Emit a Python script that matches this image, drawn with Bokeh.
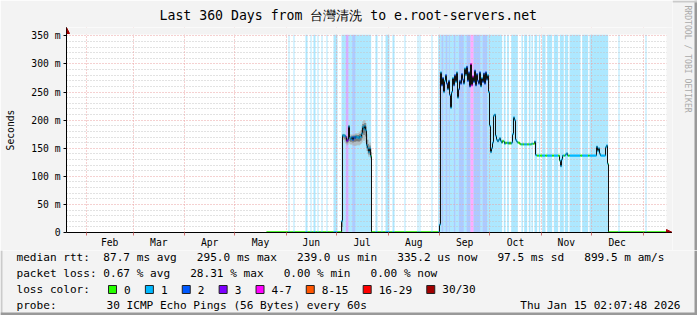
import datetime as dt
import math
from bisect import bisect_right

from bokeh.plotting import figure
from bokeh.layouts import column, row
from bokeh.models import (FixedTicker, LinearAxis, Grid, Title, Arrow, NormalHead, Range1d)
from bokeh.core.properties import value
from bokeh.embed import file_html
from bokeh.resources import INLINE

# ------------------------------------------------------------------ data
END_TIME = dt.datetime(2026, 1, 15, 2, 7, 48)
SPAN_DAYS = 360
STEP = 0.6          # days per consolidated RRD row

month_names = ["Feb", "Mar", "Apr", "May", "Jun", "Jul", "Aug", "Sep", "Oct", "Nov", "Dec"]
month_starts = [(2025, 2), (2025, 3), (2025, 4), (2025, 5), (2025, 6), (2025, 7), (2025, 8),
                (2025, 9), (2025, 10), (2025, 11), (2025, 12), (2026, 1)]

y_ticks = [0, 50, 100, 150, 200, 250, 300, 350]
y_tick_labels = ["0", "50 m", "100 m", "150 m", "200 m", "250 m", "300 m", "350 m"]
y_minor_step = 10
y_max = 352.6

zero_rtt_ms = 0.3          # ~0.3 ms median when path is local
data_start_day = 120.0     # first valid sample
gap1_start = 183.0
data_end_day = 360.0

block1_start = 165.0
block1_ms = [20, 173, 173, 172, 170, 163, 165, 189, 168, 166,
             170, 165, 170, 168, 171, 169, 170, 168, 171, 170,
             176, 188, 184, 190, 182, 155, 150, 143, 150, 136]
block1_lo = [0, 165, 165, 160, 158, 155, 156, 160, 158, 156,
             157, 155, 155, 154, 155, 155, 156, 155, 156, 158,
             160, 165, 163, 166, 160, 145, 140, 135, 138, 130]
block1_hi = [20, 176, 176, 175, 174, 170, 172, 192, 175, 172,
             175, 172, 176, 175, 177, 176, 177, 178, 180, 182,
             190, 198, 200, 200, 195, 175, 165, 158, 160, 150]

block2_start = 223.8
block2_ms = [14, 285, 262, 275, 250, 270, 280, 265, 255, 270,
             245, 222, 250, 275, 262, 280, 268, 285, 240, 255,
             270, 265, 282, 272, 265, 292, 280, 295, 270, 285,
             260, 300, 262, 278, 268, 288, 262, 282, 270, 265,
             285, 260, 275, 268, 283, 265, 285, 272, 280, 250,
             190, 143, 150, 160, 208, 210, 172, 165, 162, 165,
             168, 163, 160, 163, 162, 158, 160, 159, 160, 158,
             160, 158, 160, 175, 205, 200, 165, 162, 160, 160,
             158, 157, 157, 157, 157, 157, 157, 157, 157, 157,
             157, 157, 158, 158, 158, 162, 138]

tail_day = [282.0, 295.8, 296.4, 297.0, 297.6, 299.4, 300.0, 300.6,
            318.0, 318.6, 319.2, 319.8, 320.4, 323.4, 324.0, 324.6, 325.2]
tail_ms = [137, 128, 118, 130, 137, 139, 141, 137,
           153, 145, 150, 140, 137, 152, 155, 122, 0.3]

band_start = [133.2, 136.2, 143.4, 146.4, 148.2, 150.6, 153.0, 156.0, 160.2,
              165.0, 167.6, 169.2, 171.4, 173.4,
              185.4, 189.0, 191.4, 195.6, 202.8, 210.6, 211.8, 219.0,
              223.0, 225.0, 226.2, 227.4, 228.6, 229.4, 230.0, 232.4, 233.4,
              235.4, 238.4, 240.0, 242.4, 244.2, 248.4, 249.6, 252.4,
              262.4, 264.4, 266.8, 273.0, 274.6, 277.4, 279.0, 280.8, 283.4,
              285.4, 288.4, 292.4, 296.0, 299.0, 301.8, 309.4, 313.8, 331.2, 347.4]
band_end = [133.8, 136.8, 144.6, 147.0, 149.4, 151.2, 153.6, 156.6, 162.6,
            167.6, 169.2, 171.4, 173.4, 182.8,
            186.6, 189.6, 193.8, 196.8, 203.4, 211.2, 212.4, 219.6,
            225.0, 226.2, 227.4, 228.6, 229.4, 230.0, 232.4, 233.4, 235.4,
            238.4, 240.0, 242.4, 244.2, 248.4, 249.6, 252.4, 261.4,
            263.4, 265.4, 270.8, 273.8, 276.4, 278.4, 279.8, 282.4, 284.2,
            287.4, 291.4, 295.0, 298.4, 301.0, 308.4, 313.0, 325.0, 331.8, 348.0]
band_loss = [1, 1, 1, 1, 1, 1, 1, 1, 1,
             1, 3, 1, 2, 1,
             1, 1, 1, 1, 1, 1, 1, 1,
             1, 2, 1, 2, 1, 2, 1, 2, 1,
             2, 1, 2, 5, 2, 1, 2, 1,
             1, 1, 1, 1, 1, 1, 1, 1, 1,
             1, 1, 1, 1, 1, 1, 1, 1, 1, 1]

loss_names = ["0", "1", "2", "3", "4-7", "8-15", "16-29", "30/30"]
loss_colors = ["#26ff00", "#00b8ff", "#0059ff", "#7e00ff", "#ff00ff", "#ff5500", "#ff0000", "#a10000"]
loss_upper = [0, 1, 2, 3, 7, 15, 29, 30]

title_text = "Last 360 Days from 台灣清洗 to e.root-servers.net"
row_rtt = "median rtt:  87.7 ms avg   295.0 ms max   239.0 us min   335.2 us now   97.5 ms sd   899.5 m am/s"
row_loss = "packet loss: 0.67 % avg   28.31 % max   0.00 % min   0.00 % now"
row_color_label = "loss color:"
row_probe_label = "probe:"
row_probe_text = "30 ICMP Echo Pings (56 Bytes) every 60s"
stamp_text = "Thu Jan 15 02:07:48 2026"
watermark = "RRDTOOL / TOBI OETIKER"

# ------------------------------------------------------------------ derived
start_time = END_TIME - dt.timedelta(days=SPAN_DAYS)
bounds = [(dt.datetime(y, m, 1) - start_time).total_seconds() / 86400.0 for y, m in month_starts]
mids = [round((a + b) / 2.0, 3) for a, b in zip(bounds[:-1], bounds[1:])]


def loss_class(n):
    for i, u in enumerate(loss_upper):
        if n <= u:
            return i
    return len(loss_upper) - 1


def keep_spaces(s):
    return s.replace(" ", "\u00a0")


med_day = ([data_start_day] + [block1_start + i * STEP for i in range(len(block1_ms))] +
           [gap1_start] + [block2_start + i * STEP for i in range(len(block2_ms))] + tail_day)
med_ms = [zero_rtt_ms] + block1_ms + [zero_rtt_ms] + block2_ms + tail_ms

# ------------------------------------------------------------------ main figure
MONO = "DejaVu Sans Mono"
BG = "#f3f3f3"
PX_PER_DAY = 600 / SPAN_DAYS
PX_PER_MS = 200 / y_max
x_end = SPAN_DAYS + 6 / PX_PER_DAY          # room for the axis arrow heads
y_end = y_max + 7 / PX_PER_MS
MAIN_H = 250
MAIN_W = 672

p = figure(width=MAIN_W, height=MAIN_H, x_range=Range1d(0, x_end), y_range=Range1d(0, y_end),
           x_axis_type=None, y_axis_type=None,
           min_border_left=66, min_border_right=0, min_border_top=26, min_border_bottom=17,
           output_backend="svg", toolbar_location=None,
           background_fill_color="white", border_fill_color=BG, outline_line_color=None)

# loss background bands
bands = p.quad(left=band_start, right=band_end, bottom=0, top=y_max,
               fill_color=[loss_colors[loss_class(n)] for n in band_loss],
               fill_alpha=0.32, line_color=None)
bands.level = "image"

# grids (drawn over the loss bands)
minor_y = [v for v in range(y_minor_step, int(y_max), y_minor_step) if v % 50 != 0]
ygrid = Grid(dimension=1, ticker=FixedTicker(ticks=y_ticks, minor_ticks=minor_y),
             grid_line_color="#eba3a3", grid_line_dash="1 2",
             minor_grid_line_color="#c4c4c4", minor_grid_line_dash="1 2")
xgrid = Grid(dimension=0, ticker=FixedTicker(ticks=bounds),
             grid_line_color="#eba3a3", grid_line_dash="1 2")
p.add_layout(ygrid)
p.add_layout(xgrid)

# smoke of first block
b1_left = [block1_start + i * STEP for i in range(len(block1_ms))]
b1_right = [x + STEP for x in b1_left]
p.quad(left=b1_left, right=b1_right, bottom=block1_lo, top=block1_hi,
       fill_color="#b0b0b0", line_color=None)
p.quad(left=b1_left, right=b1_right,
       bottom=[(l + m) / 2 for l, m in zip(block1_lo, block1_ms)],
       top=[(h + m) / 2 for h, m in zip(block1_hi, block1_ms)],
       fill_color="#606060", line_color=None)

# median as dark step line
p.step(x=med_day + [data_end_day], y=med_ms + [med_ms[-1]], mode="after",
       line_color="#111111", line_width=1)

# median coloured by packet loss
edges = sorted(set(round(d, 4) for d in med_day + band_start + band_end + [data_end_day]))
edges = [e for e in edges if data_start_day <= e <= data_end_day]
sx0, sx1, sy, sc = [], [], [], []
for a, b in zip(edges[:-1], edges[1:]):
    i = bisect_right(med_day, a + 1e-6) - 1
    v = med_ms[i]
    mid = (a + b) / 2
    n = 0
    for s, e, l in zip(band_start, band_end, band_loss):
        if s <= mid < e:
            n = l
    sx0.append(a); sx1.append(b); sy.append(v); sc.append(loss_colors[loss_class(n)])
p.segment(x0=sx0, y0=sy, x1=sx1, y1=sy, line_color=sc, line_width=2.2)

# mask the arrow-head margin so the white canvas ends at the data range
p.quad(left=[SPAN_DAYS, 0], right=[x_end, x_end], bottom=[0, y_max], top=[y_end, y_end],
       fill_color=BG, line_color=None)

# axes
xaxis = LinearAxis(ticker=FixedTicker(ticks=mids, minor_ticks=bounds),
                   major_label_overrides={m: n for m, n in zip(mids, month_names)},
                   axis_line_color="black", major_tick_line_color=None,
                   minor_tick_line_color="#d07070", minor_tick_in=0, minor_tick_out=3,
                   major_tick_in=0, major_tick_out=0, major_label_standoff=1,
                   major_label_text_font=MONO, major_label_text_font_size="9.7px",
                   major_label_text_color="black")
yaxis = LinearAxis(ticker=FixedTicker(ticks=y_ticks),
                   major_label_overrides={t: s for t, s in zip(y_ticks, y_tick_labels)},
                   axis_line_color="black", major_tick_line_color="black",
                   major_tick_in=0, major_tick_out=3, minor_tick_line_color=None,
                   major_label_standoff=3,
                   major_label_text_font=MONO, major_label_text_font_size="9.7px",
                   major_label_text_color="black",
                   axis_label="Seconds", axis_label_text_font=MONO,
                   axis_label_text_font_size="9.7px", axis_label_text_font_style="normal",
                   axis_label_standoff=12, axis_label_text_color="black")
p.add_layout(xaxis, "below")
p.add_layout(yaxis, "left")

# axis arrows
p.add_layout(Arrow(end=NormalHead(size=6, fill_color="#a10000", line_color="#a10000"),
                   x_start=SPAN_DAYS - 1, y_start=0, x_end=x_end, y_end=0,
                   line_color="black", line_width=1))
p.add_layout(Arrow(end=NormalHead(size=6, fill_color="#a10000", line_color="#a10000"),
                   x_start=0, y_start=y_max - 2, x_end=0, y_end=y_end,
                   line_color="black", line_width=1))

# title
p.add_layout(Title(text=title_text, align="left", offset=93, standoff=10,
                   text_font=MONO, text_font_size="13.2px", text_font_style="normal",
                   text_color="black"), "above")

# ------------------------------------------------------------------ right strip (watermark)
RW = 697 - MAIN_W
r = figure(width=RW, height=MAIN_H, x_range=Range1d(MAIN_W, 697), y_range=Range1d(MAIN_H, 0),
           x_axis_type=None, y_axis_type=None, min_border=0,
           output_backend="svg", toolbar_location=None,
           background_fill_color=BG, border_fill_color=BG, outline_line_color=None)
r.grid.visible = False
r.text(x=[687], y=[5], text=[keep_spaces(watermark)], angle=-math.pi / 2,
       text_font=value(MONO), text_font_size=value("8.1px"), text_align="left",
       text_baseline="middle", text_color="#aaaaaa")
r.quad(left=[694, MAIN_W], right=[697, 697], top=[0, 0], bottom=[MAIN_H, 2],
       fill_color=["#999999", "#cbcbcb"], line_color=None)

# ------------------------------------------------------------------ legend strip
LH = 315 - MAIN_H
Y0 = MAIN_H          # canvas y of the strip's top edge
q = figure(width=697, height=LH, x_range=Range1d(0, 697), y_range=Range1d(Y0 + LH, Y0),
           x_axis_type=None, y_axis_type=None, min_border=0,
           output_backend="svg", toolbar_location=None,
           background_fill_color=BG, border_fill_color=BG, outline_line_color=None)
q.grid.visible = False
for fig in (p, q, r):
    if "frame_align" in fig.properties():
        fig.frame_align = False

FS = value("11.1px")
CH = 6.68
q.text(x=[16, 16, 16, 16, 106], y=[257, 273, 289, 305, 305],
       text=[keep_spaces(t) for t in [row_rtt, row_loss, row_color_label, row_probe_label,
                                      row_probe_text]],
       text_font=value(MONO), text_font_size=FS, text_baseline="middle", text_align="left",
       text_color="black")
q.text(x=[680], y=[305], text=[keep_spaces(stamp_text)], text_font=value(MONO),
       text_font_size=FS, text_baseline="middle", text_align="right", text_color="black")

box_left, label_x = [], []
bx = 108.0
for name in loss_names:
    box_left.append(bx)
    label_x.append(bx + 15.5)
    bx = bx + 15.5 + len(name) * CH + 14.7
q.quad(left=box_left, right=[b + 8 for b in box_left], top=[285] * len(box_left),
       bottom=[293] * len(box_left), fill_color=loss_colors, line_color="#222222", line_width=1)
q.text(x=label_x, y=[289] * len(label_x), text=loss_names, text_font=value(MONO),
       text_font_size=FS, text_baseline="middle", text_align="left", text_color="black")

# frame shading of the image border
q.quad(left=[0, 694, 0], right=[2, 697, 697], top=[Y0, Y0, 312], bottom=[315, 315, 315],
       fill_color=["#cbcbcb", "#999999", "#999999"], line_color=None)

layout = column(row(p, r, spacing=0), q, spacing=0)
open("out.html", "w").write(file_html(layout, INLINE))
